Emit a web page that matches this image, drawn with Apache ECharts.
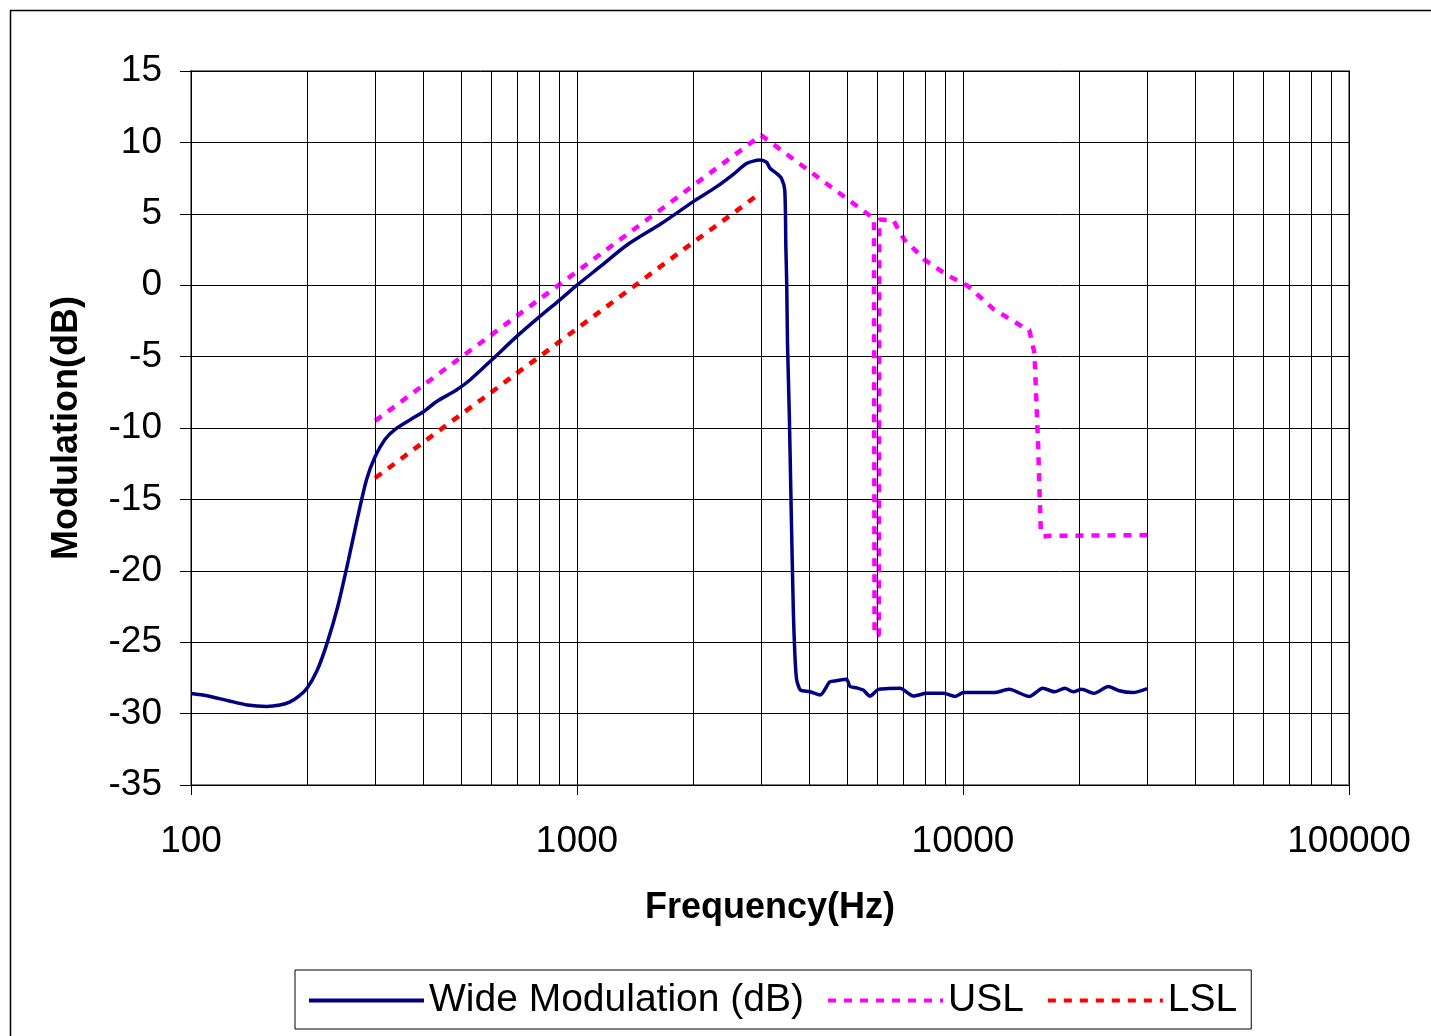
<!DOCTYPE html>
<html>
<head>
<meta charset="utf-8">
<script src="https://cdn.jsdelivr.net/npm/echarts@6/dist/echarts.min.js"></script>
<style>
html,body{margin:0;padding:0;background:#fff;}
#chart{width:1431px;height:1036px;}
</style>
</head>
<body>
<div id="chart"></div>
<script>
// ---- data ----
const wideFreq = [100,110,125,140,157,170,180,190,200,212,225,240,256,270,285,300,318,338,369,400,432,487,528,601,697,800,901,1000,1148,1345,1650,2001,2301,2550,2752,2979,3100,3162,3300,3385,3453,3476,3494,3510,3548,3590,3636,3670,3705,3750,3792,4017,4262,4519,4700,4991,5097,5300,5512,5740,6036,6400,6866,7435,8062,8899,9545,10036,12023,13160,14850,16100,17270,18350,19300,20280,21860,23800,25390,27520,30000];
const wideVal = [-28.6,-28.75,-29.1,-29.4,-29.5,-29.4,-29.2,-28.8,-28.2,-27.0,-25.1,-22.5,-19.2,-16.3,-13.6,-12.0,-10.8,-10.1,-9.44,-8.86,-8.16,-7.34,-6.64,-5.24,-3.6,-2.2,-1.04,0.0,1.3,2.8,4.3,5.85,6.9,7.8,8.53,8.77,8.6,8.19,7.8,7.49,6.67,2.7,0.13,-4.0,-9.0,-16.0,-23.0,-26.0,-27.6,-28.1,-28.35,-28.47,-28.7,-27.77,-27.7,-27.6,-28.1,-28.2,-28.35,-28.77,-28.3,-28.25,-28.23,-28.77,-28.58,-28.58,-28.8,-28.53,-28.53,-28.3,-28.8,-28.23,-28.47,-28.23,-28.47,-28.3,-28.58,-28.1,-28.4,-28.53,-28.25];

const uslFreq = [300,500,1000,2000,3000,4000,5000,5880,5900,6050,6070,6600,7045,7976,9090,10300,12020,14250,14850,15320,15500,15650,15800,15900,16150,16800,30000];
const uslVal  = [-9.5,-5.06,0.96,6.98,10.5,8.0,6.06,4.66,-24.5,-24.5,4.6,4.55,3.2,1.76,0.71,-0.06,-1.69,-2.9,-3.14,-4.77,-8.3,-11.1,-14.8,-17.1,-17.6,-17.55,-17.5];

const lslFreq = [300,400,500,600,700,800,900,1000,1500,2000,2500,3000];
const lslVal  = [-13.5,-11.0,-9.06,-7.5,-6.14,-5.0,-3.96,-3.04,0.5,3.0,4.9,6.5];

const minorGridFreq = [200,300,400,500,600,700,800,900,2000,3000,4000,5000,6000,7000,8000,9000,20000,30000,40000,50000,60000,70000,80000,90000];

const seriesNames = ['Wide Modulation (dB)','USL','LSL'];

const pair = (xs, ys) => xs.map((x, i) => [x, ys[i]]);

const FONT = '"Liberation Sans", Arial, sans-serif';
const chart = echarts.init(document.getElementById('chart'), null, {renderer:'canvas'});

chart.setOption({
  backgroundColor: '#fff',
  animation: false,
  graphic: [{
    type: 'rect', left: 8, top: 8, z: -10,
    shape: {x: 0, y: 0, width: 1440, height: 1040},
    style: {fill: 'none', stroke: '#000', lineWidth: 1.5}
  }],
  grid: {
    left: 191, top: 71, right: 82, bottom: 251,
    show: true, borderColor: '#808080', borderWidth: 2, backgroundColor: 'transparent'
  },
  legend: {
    data: seriesNames,
    left: 295, top: 970,
    padding: [11, 14, 9, 12],
    borderColor: '#000', borderWidth: 1,
    itemWidth: 115, itemHeight: 14, itemGap: 22,
    itemStyle: {color: 'rgba(0,0,0,0)', borderWidth: 0, opacity: 0},
    lineStyle: {width: 4},
    textStyle: {fontFamily: FONT, fontSize: 39, color: '#000'}
  },
  xAxis: {
    type: 'log', logBase: 10, min: 100, max: 100000,
    name: 'Frequency(Hz)', nameLocation: 'middle', nameGap: 105,
    nameTextStyle: {fontFamily: FONT, fontSize: 36, fontWeight: 'bold', color: '#000'},
    axisLine: {show: true, onZero: false, lineStyle: {color: '#000', width: 1}},
    axisTick: {show: true, inside: false, length: 10, lineStyle: {color: '#000'}},
    axisLabel: {fontFamily: FONT, fontSize: 37, color: '#000', margin: 38,
      formatter: v => String(Math.round(v))},
    splitLine: {show: true, lineStyle: {color: '#000', width: 1}},
    minorTick: {show: false}, minorSplitLine: {show: false}
  },
  yAxis: {
    type: 'value', min: -35, max: 15, interval: 5,
    name: 'Modulation(dB)', nameLocation: 'middle', nameGap: 106, nameRotate: 90,
    nameTextStyle: {fontFamily: FONT, fontSize: 36, fontWeight: 'bold', color: '#000'},
    axisLine: {show: true, lineStyle: {color: '#000', width: 1}},
    axisTick: {show: true, inside: false, length: 11, lineStyle: {color: '#000'}},
    axisLabel: {fontFamily: FONT, fontSize: 37, color: '#000', margin: 29},
    splitLine: {show: true, lineStyle: {color: '#000', width: 1}}
  },
  series: [
    {
      type: 'line', z: 1, silent: true, symbol: 'none',
      data: [[100, -35]], lineStyle: {width: 0},
      markLine: {
        silent: true, symbol: 'none', label: {show: false},
        lineStyle: {color: '#000', width: 1, type: 'solid'},
        data: minorGridFreq.map(f => ({xAxis: f}))
      }
    },
    {
      name: seriesNames[0], type: 'line', z: 5, symbol: 'none',
      smooth: 0.25,
      data: pair(wideFreq, wideVal),
      lineStyle: {color: '#000080', width: 3.5},
      itemStyle: {color: '#000080'}
    },
    {
      name: seriesNames[1], type: 'line', z: 4, symbol: 'none',
      data: pair(uslFreq, uslVal),
      lineStyle: {color: '#FF00FF', width: 4.5, type: [8, 8]},
      itemStyle: {color: '#FF00FF'}
    },
    {
      name: seriesNames[2], type: 'line', z: 4, symbol: 'none',
      data: pair(lslFreq, lslVal),
      lineStyle: {color: '#FF0000', width: 4.5, type: [8, 8]},
      itemStyle: {color: '#FF0000'}
    }
  ]
});
</script>
</body>
</html>
